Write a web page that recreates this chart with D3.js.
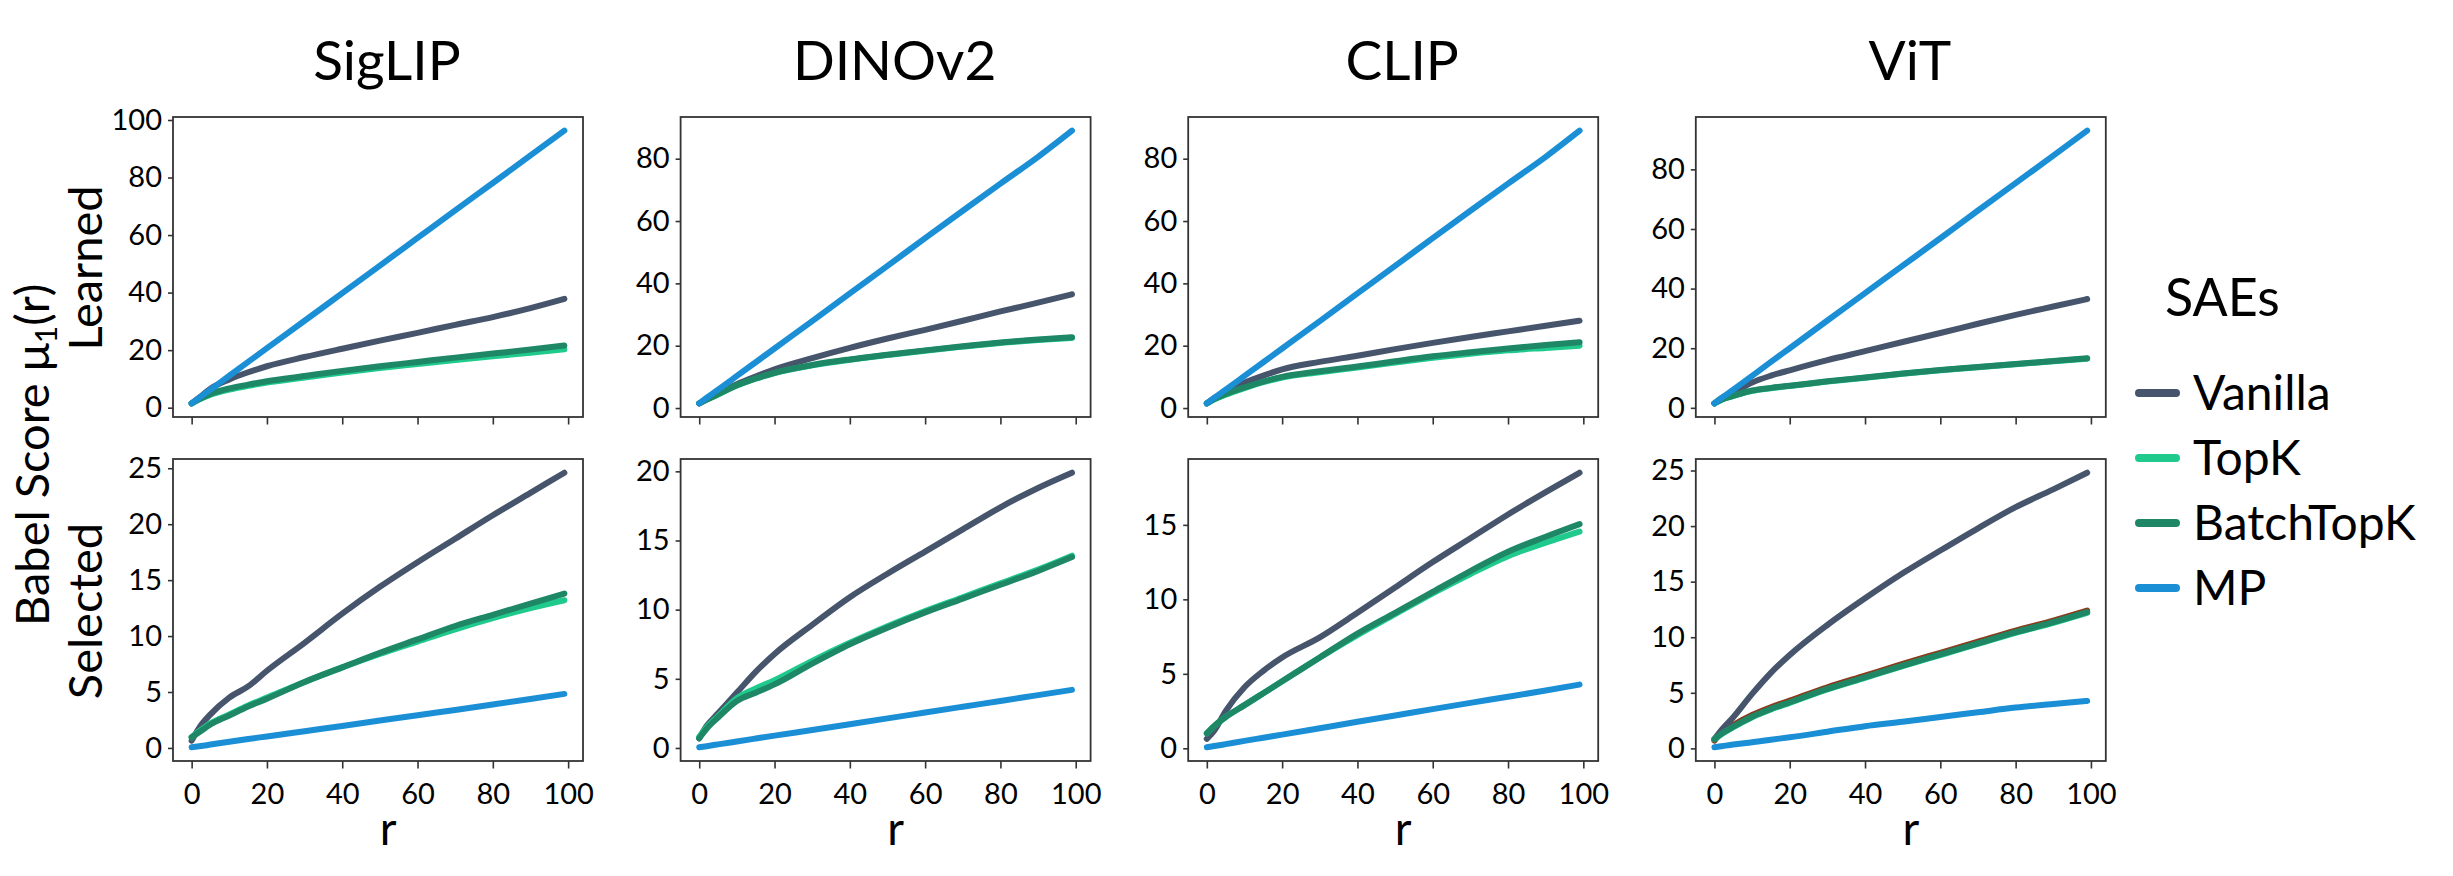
<!DOCTYPE html>
<html>
<head>
<meta charset="utf-8">
<script src="https://cdn.jsdelivr.net/npm/d3@7"></script>
<style>
  html, body { margin: 0; padding: 0; background: #ffffff; }
  svg { display: block; font-family: Lato, "Noto Sans", sans-serif; }
</style>
</head>
<body>
<svg id="chart" width="2453" height="876"></svg>
<script>
// ---------------- DATA ----------------
const models = ["SigLIP", "DINOv2", "CLIP", "ViT"];
const rows = ["Learned", "Selected"];
const saes = ["Vanilla", "TopK", "BatchTopK", "MP"];
const rValues = [0, 2, 5, 10, 15, 20, 30, 40, 50, 60, 70, 80, 90, 99];
const xTickValues = [0, 20, 40, 60, 80, 100];

// Learned row
const learnedSigLIP_Vanilla   = [1.5, 3.5, 6.6, 9.8, 12.3, 14.4, 17.6, 20.5, 23.3, 26.0, 28.8, 31.5, 34.6, 37.8];
const learnedSigLIP_TopK      = [1.5, 2.8, 4.5, 6.3, 7.6, 8.7, 10.5, 12.2, 13.8, 15.2, 16.6, 17.9, 19.1, 20.3];
const learnedSigLIP_BatchTopK = [1.5, 3.0, 4.8, 6.7, 8.0, 9.2, 11.0, 12.8, 14.4, 15.9, 17.4, 18.8, 20.2, 21.6];
const learnedSigLIP_MP        = [1.5, 3.4, 6.3, 11.1, 15.9, 20.7, 30.2, 39.8, 49.4, 59.0, 68.6, 78.1, 87.7, 96.3];

const learnedDINOv2_Vanilla   = [1.5, 2.8, 4.6, 7.6, 10.1, 12.4, 16.0, 19.3, 22.3, 25.1, 28.0, 31.0, 33.8, 36.5];
const learnedDINOv2_TopK      = [1.5, 2.7, 4.4, 7.2, 9.4, 11.2, 13.7, 15.5, 17.0, 18.4, 19.7, 20.9, 21.8, 22.5];
const learnedDINOv2_BatchTopK = [1.5, 2.7, 4.4, 7.3, 9.5, 11.3, 13.8, 15.6, 17.1, 18.5, 19.8, 21.0, 22.0, 22.7];
const learnedDINOv2_MP        = [1.5, 3.3, 5.9, 10.3, 14.7, 19.1, 27.9, 36.8, 45.6, 54.5, 63.3, 72.0, 80.6, 89.0];

const learnedCLIP_Vanilla     = [1.5, 3.2, 5.2, 8.1, 10.4, 12.4, 14.8, 16.8, 18.9, 20.9, 22.8, 24.6, 26.4, 28.0];
const learnedCLIP_TopK        = [1.5, 2.8, 4.3, 6.4, 8.3, 9.8, 11.5, 13.0, 14.6, 16.1, 17.4, 18.5, 19.3, 20.0];
const learnedCLIP_BatchTopK   = [1.5, 2.9, 4.5, 6.6, 8.5, 10.0, 11.8, 13.3, 15.0, 16.6, 17.9, 19.1, 20.2, 21.1];
const learnedCLIP_MP          = [1.5, 3.3, 5.9, 10.3, 14.7, 19.1, 27.9, 36.8, 45.6, 54.5, 63.3, 72.0, 80.6, 89.0];

const learnedViT_Vanilla      = [1.5, 3.4, 5.1, 8.5, 10.8, 12.6, 16.0, 19.0, 22.1, 25.1, 28.2, 31.2, 34.0, 36.5];
const learnedViT_TopK         = [1.5, 2.8, 4.0, 5.7, 6.6, 7.3, 8.8, 10.1, 11.4, 12.6, 13.6, 14.6, 15.6, 16.5];
const learnedViT_BatchTopK    = [1.5, 2.8, 4.0, 5.8, 6.7, 7.4, 8.9, 10.2, 11.5, 12.7, 13.7, 14.7, 15.7, 16.6];
const learnedViT_MP           = [1.5, 3.4, 6.1, 10.7, 15.4, 20.0, 29.3, 38.5, 47.7, 56.9, 66.2, 75.4, 84.6, 93.0];

// Selected row
const selectedSigLIP_Vanilla   = [0.65, 1.8, 3.0, 4.5, 5.5, 6.9, 9.4, 12.0, 14.4, 16.6, 18.7, 20.8, 22.8, 24.6];
const selectedSigLIP_TopK      = [0.95, 1.5, 2.2, 3.0, 3.8, 4.5, 5.9, 7.2, 8.4, 9.5, 10.6, 11.6, 12.5, 13.2];
const selectedSigLIP_BatchTopK = [0.95, 1.4, 2.1, 2.9, 3.7, 4.4, 5.9, 7.2, 8.5, 9.7, 10.9, 11.9, 12.9, 13.8];
const selectedSigLIP_MP        = [0.06, 0.15, 0.3, 0.55, 0.8, 1.03, 1.5, 1.97, 2.45, 2.93, 3.4, 3.88, 4.37, 4.83];

const selectedDINOv2_Vanilla   = [0.7, 1.6, 2.5, 4.0, 5.5, 6.8, 8.9, 10.9, 12.6, 14.2, 15.8, 17.4, 18.8, 19.9];
const selectedDINOv2_TopK      = [0.8, 1.5, 2.3, 3.6, 4.3, 4.9, 6.3, 7.6, 8.8, 9.9, 10.9, 11.9, 12.9, 13.9];
const selectedDINOv2_BatchTopK = [0.7, 1.4, 2.2, 3.4, 4.0, 4.6, 6.1, 7.5, 8.7, 9.8, 10.8, 11.8, 12.8, 13.8];
const selectedDINOv2_MP        = [0.05, 0.13, 0.26, 0.47, 0.68, 0.89, 1.3, 1.72, 2.14, 2.56, 2.98, 3.4, 3.82, 4.2];

const selectedCLIP_Vanilla     = [0.63, 1.2, 2.5, 4.1, 5.2, 6.1, 7.45, 9.1, 10.8, 12.5, 14.1, 15.7, 17.2, 18.5];
const selectedCLIP_TopK        = [1.0, 1.5, 2.1, 2.9, 3.7, 4.5, 6.1, 7.6, 9.0, 10.4, 11.7, 12.9, 13.8, 14.55];
const selectedCLIP_BatchTopK   = [1.0, 1.5, 2.1, 2.9, 3.7, 4.5, 6.1, 7.7, 9.1, 10.5, 11.9, 13.2, 14.2, 15.05];
const selectedCLIP_MP          = [0.07, 0.15, 0.28, 0.5, 0.71, 0.92, 1.35, 1.78, 2.2, 2.63, 3.05, 3.46, 3.88, 4.28];

const selectedViT_Vanilla      = [0.83, 1.7, 2.8, 4.9, 6.8, 8.4, 11.1, 13.5, 15.75, 17.8, 19.8, 21.7, 23.3, 24.8];
const selectedViT_TopK         = [0.83, 1.3, 1.9, 2.8, 3.5, 4.1, 5.3, 6.35, 7.4, 8.4, 9.4, 10.4, 11.3, 12.2];
const selectedViT_BatchTopK    = [0.83, 1.35, 1.95, 2.85, 3.55, 4.15, 5.35, 6.4, 7.45, 8.45, 9.45, 10.45, 11.35, 12.25];
const selectedViT_MP           = [0.1, 0.2, 0.35, 0.55, 0.78, 1.0, 1.5, 2.0, 2.4, 2.83, 3.25, 3.67, 4.0, 4.27];
// unlabeled thin brown trace visible under the green lines in the ViT "Selected" panel
const selectedViT_Extra        = [0.7, 1.5, 2.1, 3.0, 3.7, 4.3, 5.5, 6.55, 7.6, 8.6, 9.6, 10.6, 11.5, 12.4];

// y tick labels per panel
const yTicksLearned  = { SigLIP: [0, 20, 40, 60, 80, 100], DINOv2: [0, 20, 40, 60, 80], CLIP: [0, 20, 40, 60, 80], ViT: [0, 20, 40, 60, 80] };
const yTicksSelected = { SigLIP: [0, 5, 10, 15, 20, 25], DINOv2: [0, 5, 10, 15, 20], CLIP: [0, 5, 10, 15], ViT: [0, 5, 10, 15, 20, 25] };

const seriesColors = { Vanilla: "#46556c", TopK: "#1fca8c", BatchTopK: "#1e8766", MP: "#1b8fd6", Extra: "#8a3b1c" };

// ---------------- assemble ----------------
const dataTable = {
  Learned: {
    SigLIP: { Vanilla: learnedSigLIP_Vanilla, TopK: learnedSigLIP_TopK, BatchTopK: learnedSigLIP_BatchTopK, MP: learnedSigLIP_MP },
    DINOv2: { Vanilla: learnedDINOv2_Vanilla, TopK: learnedDINOv2_TopK, BatchTopK: learnedDINOv2_BatchTopK, MP: learnedDINOv2_MP },
    CLIP:   { Vanilla: learnedCLIP_Vanilla, TopK: learnedCLIP_TopK, BatchTopK: learnedCLIP_BatchTopK, MP: learnedCLIP_MP },
    ViT:    { Vanilla: learnedViT_Vanilla, TopK: learnedViT_TopK, BatchTopK: learnedViT_BatchTopK, MP: learnedViT_MP }
  },
  Selected: {
    SigLIP: { Vanilla: selectedSigLIP_Vanilla, TopK: selectedSigLIP_TopK, BatchTopK: selectedSigLIP_BatchTopK, MP: selectedSigLIP_MP },
    DINOv2: { Vanilla: selectedDINOv2_Vanilla, TopK: selectedDINOv2_TopK, BatchTopK: selectedDINOv2_BatchTopK, MP: selectedDINOv2_MP },
    CLIP:   { Vanilla: selectedCLIP_Vanilla, TopK: selectedCLIP_TopK, BatchTopK: selectedCLIP_BatchTopK, MP: selectedCLIP_MP },
    ViT:    { Extra: selectedViT_Extra, Vanilla: selectedViT_Vanilla, TopK: selectedViT_TopK, BatchTopK: selectedViT_BatchTopK, MP: selectedViT_MP }
  }
};
const yTicks = { Learned: yTicksLearned, Selected: yTicksSelected };

// ---------------- layout ----------------
const svg = d3.select("#chart");
const FONT = "Lato, 'Noto Sans', sans-serif";
const panelLeft0 = 173, panelStep = 507.6, panelW = 410;
const rowBox = { Learned: { top: 117, bottom: 417 }, Selected: { top: 459, bottom: 761 } };
const frameColor = "#333333";

const xDomain = (() => {
  const ext = d3.extent(rValues); const pad = (ext[1] - ext[0]) * 0.05;
  return [ext[0] - pad, ext[1] + pad];
})();

models.forEach((model, ci) => {
  const x0 = panelLeft0 + ci * panelStep;
  const x = d3.scaleLinear().domain(xDomain).range([x0, x0 + panelW]);

  // title
  svg.append("text")
    .attr("x", x0 + panelW / 2 + 9).attr("y", 80)
    .attr("text-anchor", "middle").attr("font-family", FONT)
    .attr("font-size", 55).attr("fill", "#000").text(model);

  rows.forEach((row) => {
    const box = rowBox[row];
    const seriesObj = dataTable[row][model];
    const all = Object.values(seriesObj).flat();
    const ext = d3.extent(all); const pad = (ext[1] - ext[0]) * 0.05;
    const y = d3.scaleLinear().domain([ext[0] - pad, ext[1] + pad]).range([box.bottom, box.top]);
    const g = svg.append("g");

    // lines
    const line = d3.line().x((d, i) => x(rValues[i])).y(d => y(d)).curve(d3.curveMonotoneX);
    const order = ["Extra", "Vanilla", "TopK", "BatchTopK", "MP"].filter(k => seriesObj[k]);
    order.forEach(k => {
      g.append("path")
        .attr("d", line(seriesObj[k]))
        .attr("fill", "none")
        .attr("stroke", seriesColors[k])
        .attr("stroke-width", 6)
        .attr("stroke-linecap", "round")
        .attr("stroke-linejoin", "round");
    });

    // frame
    g.append("rect")
      .attr("x", x0).attr("y", box.top)
      .attr("width", panelW).attr("height", box.bottom - box.top)
      .attr("fill", "none").attr("stroke", frameColor).attr("stroke-width", 1.8);

    // x axis
    const xAxis = d3.axisBottom(x).tickValues(xTickValues).tickSize(7.5).tickPadding(8)
      .tickFormat(row === "Selected" ? d3.format("d") : () => "");
    const gx = g.append("g").attr("transform", `translate(0,${box.bottom})`).call(xAxis);
    gx.select(".domain").remove();
    gx.selectAll("line").attr("stroke", frameColor).attr("stroke-width", 1.6);
    gx.selectAll("text").attr("font-family", FONT).attr("font-size", 29).attr("fill", "#000").attr("dy", "0.95em");

    // y axis
    const yAxis = d3.axisLeft(y).tickValues(yTicks[row][model]).tickSize(5).tickPadding(6).tickFormat(d3.format("d"));
    const gy = g.append("g").attr("transform", `translate(${x0},0)`).call(yAxis);
    gy.select(".domain").remove();
    gy.selectAll("line").attr("stroke", frameColor).attr("stroke-width", 1.6);
    gy.selectAll("text").attr("font-family", FONT).attr("font-size", 29).attr("fill", "#000");

    if (row === "Selected") {
      svg.append("text")
        .attr("x", x0 + panelW / 2 + 10).attr("y", 845)
        .attr("text-anchor", "middle").attr("font-family", FONT)
        .attr("font-size", 46).attr("fill", "#000").text("r");
    }
  });
});

// row labels
const rowLabelPos = { Learned: 268, Selected: 611 };
rows.forEach(row => {
  svg.append("text")
    .attr("transform", `translate(102,${rowLabelPos[row]}) rotate(-90)`)
    .attr("text-anchor", "middle").attr("font-family", FONT)
    .attr("font-size", 47).attr("fill", "#000").text(row);
});

// global y label (rotated, reads bottom to top)
const yl = svg.append("text")
  .attr("transform", "translate(49,626) rotate(-90)")
  .attr("text-anchor", "start").attr("font-family", FONT)
  .attr("font-size", 47).attr("fill", "#000");
yl.append("tspan").text("Babel Score μ");
yl.append("tspan").attr("font-size", 30).attr("dy", 8).text("1");
yl.append("tspan").attr("dy", -8).text("(r)");

// legend
const legend = svg.append("g");
legend.append("text")
  .attr("x", 2165).attr("y", 316)
  .attr("font-family", FONT).attr("font-size", 52).attr("fill", "#000").text("SAEs");
saes.forEach((s, i) => {
  const ly = 393 + i * 65;
  legend.append("line")
    .attr("x1", 2139).attr("x2", 2176).attr("y1", ly).attr("y2", ly)
    .attr("stroke", seriesColors[s]).attr("stroke-width", 8).attr("stroke-linecap", "round");
  legend.append("text")
    .attr("x", 2193).attr("y", ly + 17)
    .attr("font-family", FONT).attr("font-size", 48).attr("fill", "#000").text(s);
});
</script>
</body>
</html>
